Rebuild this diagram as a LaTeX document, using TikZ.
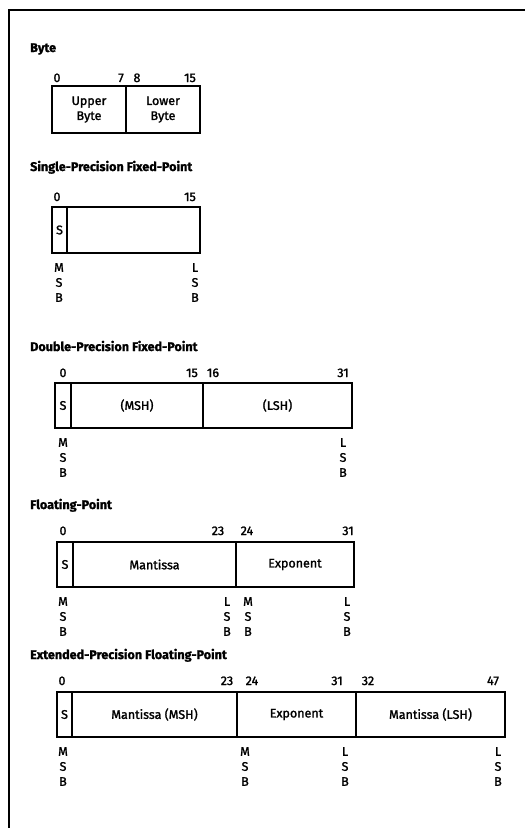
\documentclass[tikz,border=0pt]{standalone}
\usepackage{fontspec}
\setmainfont{Fira Sans}
\newfontfamily\lblfam{Fira Sans}[FakeBold=1.6]
\newfontfamily\ttlfam{Fira Sans Bold}[FakeBold=1.2]
\newcommand\lblfont{\lblfam\fontsize{12.5}{15}\selectfont}
\newcommand\ttlfont{\ttlfam\fontsize{12.6}{14}\selectfont}
\newcommand\field[6]{\node[field, minimum width={#3-#2}, minimum height={#5-#4}] (#1) at ({(#2+#3)/2},{(#4+#5)/2}) {#6};}
\newcommand\bitnum[4]{\node[bitnum] (#1) at (#2,#3) {#4};}
\newcommand\sigbit[4]{\node[sigbit] (#1) at (#2,#3) {#4};}
\begin{document}
\begin{tikzpicture}[x=1pt,y=-1pt,
  field/.style={draw, line width=1.3pt, inner sep=0pt, align=center, font=\lblfont},
  bitnum/.style={font=\lblfont, inner sep=0pt, anchor=base},
  sigbit/.style={font=\lblfont, align=center, inner sep=0pt, anchor=north},
  title/.style={font=\ttlfont, anchor=base west, inner sep=0pt},
  frameline/.style={line width=1.5pt}]
\useasboundingbox (0,0) rectangle (525,828);
\coordinate (fbl) at (9,828);
\coordinate (ftl) at (9,10);
\coordinate (ftr) at (525,10);
\draw[frameline] (fbl) -- (ftl) -- (ftr);

% Byte
\node[title] (t1) at (30,52) {Byte};
\field{bu}{52}{126}{86}{133}{Upper\\Byte}
\field{bl}{126}{200}{86}{133}{Lower\\Byte}
\bitnum{b0}{57}{82}{0}
\bitnum{b7}{121}{82}{7}
\bitnum{b8}{137}{82}{8}
\bitnum{b15}{190}{82}{15}

% Single
\node[title] (t2) at (30,171) {Single-Precision Fixed-Point};
\field{ss}{52}{67}{207}{253}{S}
\field{sm}{67}{200}{207}{253}{}
\bitnum{s0}{57}{201}{0}
\bitnum{s15}{190}{201}{15}
\sigbit{smsb}{59}{263}{M\\S\\B}
\sigbit{slsb}{195}{263}{L\\S\\B}

% Double
\node[title] (t3) at (30,351) {Double-Precision Fixed-Point};
\field{ds}{55}{71}{383}{428}{S}
\field{dh}{71}{203}{383}{428}{(MSH)}
\field{dl}{203}{352}{383}{428}{(LSH)}
\bitnum{d0}{63}{377}{0}
\bitnum{d15}{192}{377}{15}
\bitnum{d16}{213}{377}{16}
\bitnum{d31}{343}{377}{31}
\sigbit{dmsb}{63}{438}{M\\S\\B}
\sigbit{dlsb}{343}{438}{L\\S\\B}

% Floating
\node[title] (t4) at (30,509) {Floating-Point};
\field{fs}{57}{73}{542}{587}{S}
\field{fm}{73}{236}{542}{587}{Mantissa}
\field{fe}{236}{354}{542}{587}{Exponent}
\bitnum{f0}{63}{535}{0}
\bitnum{f23}{218}{535}{23}
\bitnum{f24}{247}{535}{24}
\bitnum{f31}{348}{535}{31}
\sigbit{fmsb}{63}{597}{M\\S\\B}
\sigbit{flsb1}{227}{597}{L\\S\\B}
\sigbit{fmsb2}{248}{597}{M\\S\\B}
\sigbit{flsb}{347}{597}{L\\S\\B}

% Extended
\node[title] (t5) at (30,659) {Extended-Precision Floating-Point};
\field{es}{57}{72}{692}{737}{S}
\field{em}{72}{237}{692}{737}{Mantissa (MSH)}
\field{ex}{237}{356}{692}{737}{Exponent}
\field{el}{356}{505}{692}{737}{Mantissa (LSH)}
\bitnum{e0}{62}{685}{0}
\bitnum{e23}{227}{685}{23}
\bitnum{e24}{252}{685}{24}
\bitnum{e31}{337}{685}{31}
\bitnum{e32}{368}{685}{32}
\bitnum{e47}{493}{685}{47}
\sigbit{emsb}{63}{747}{M\\S\\B}
\sigbit{emsb2}{245}{747}{M\\S\\B}
\sigbit{elsb1}{345}{747}{L\\S\\B}
\sigbit{elsb}{498}{747}{L\\S\\B}
\end{tikzpicture}
\end{document}
